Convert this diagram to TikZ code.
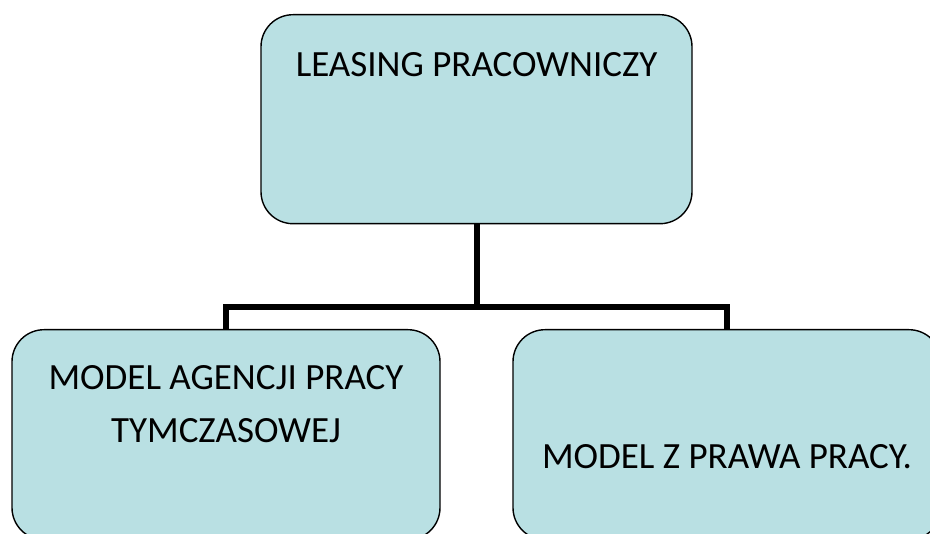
\documentclass[tikz,border=0pt]{standalone}
\usepackage{fontspec}
\setmainfont{Carlito}
\definecolor{morski}{RGB}{185,224,227}

\begin{document}
\begin{tikzpicture}[
		x=1pt, y=-1pt,
		ramka/.style={draw=black, fill=morski, line width=1.4pt,
			rounded corners=32pt, inner xsep=0pt, inner ysep=0pt,
			align=center, font=\fontsize{37}{53}\selectfont},
		laczenie/.style={line width=6pt, black}]
	
	\useasboundingbox (0,0) rectangle (930,534);
	
	\def\W{428}       %% larghezza dei due blocchi in basso
	\def\yBar{307}    %% quota della barra orizzontale
	
	%% --- blocco superiore ---
	\node[ramka, anchor=north, minimum width=431pt,
		text height=62pt, text depth=147pt] (leasing) at (476.5,14)
		{LEASING PRACOWNICZY};
	
	%% --- due blocchi in basso (tagliati dal bordo) ---
	%% base del testo = ultima riga
	\node[ramka, anchor=north, minimum width=\W pt,
		text height=113pt, text depth=97pt] (agencja) at (226,329)
		{MODEL AGENCJI PRACY\\TYMCZASOWEJ};
	\node[ramka, anchor=north, minimum width=\W pt,
		text height=139pt, text depth=71pt] (prawo) at (727,329)
		{MODEL Z PRAWA PRACY.};
	
	%% --- collegamenti ---
	\coordinate (snodo) at (leasing.south |- 0,\yBar);
	\draw[laczenie] (leasing.south) -- (snodo);
	\draw[laczenie] (snodo) -| (agencja.north);
	\draw[laczenie] (snodo) -| (prawo.north);
	
\end{tikzpicture}
\end{document}
